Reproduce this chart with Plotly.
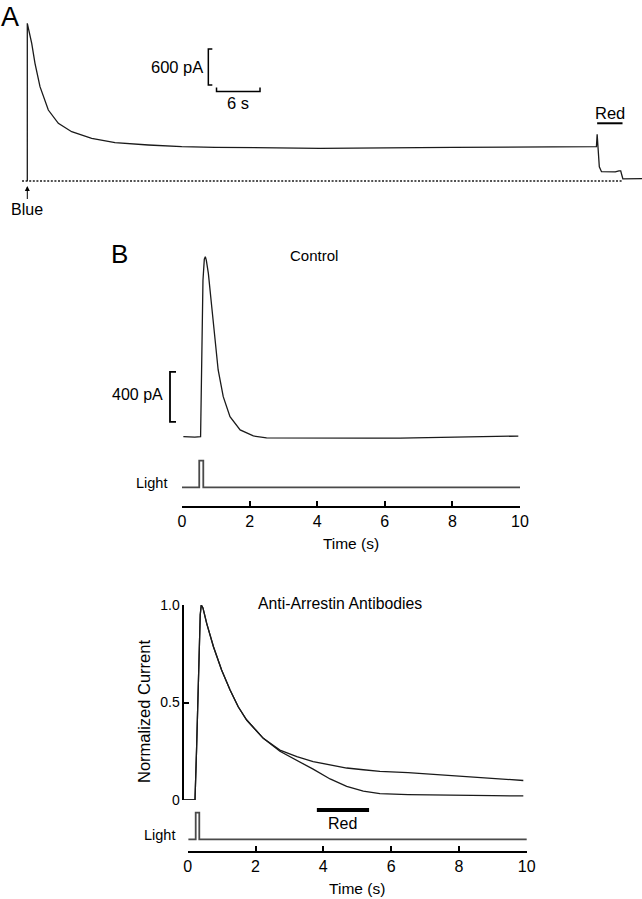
import plotly.graph_objects as go

W, H = 642, 899
FONT = "Liberation Sans, Arial, Helvetica, sans-serif"


def fx(px):
    return px / W


def fy(py):
    return 1 - py / H


# ---------------- DATA ----------------
# Panel A: whole-cell current (pA) vs time (s) after blue flash, red light at the end
a_time = [0.0, 0.0, 0.61, 1.06, 1.75, 2.90, 4.28, 6.12, 8.88, 12.1, 16.7, 21.3, 25.9,
          40.4, 58.7, 75.8, 78.5, 78.6, 78.75, 78.9, 79.2, 80.0, 81.1, 81.6, 81.85,
          82.0, 82.15, 84.8]
a_current = [0, 2628, 2295, 1962, 1572, 1183, 962, 822, 712, 638, 600, 572, 562,
             545, 561, 572, 572, 778, 450, 238, 155, 150, 152, 170, 168,
             100, 35, 38]
a_base_time = [-0.73, 82.2]
a_base_current = [0, 0]
a_red = [78.6, 82.1]
a_scale_current = 600   # pA
a_scale_time = 6        # s

# Panel B, Control: current (pA) vs time (s)
ctrl_time = [0.04, 0.2, 0.38, 0.55, 0.58, 0.62, 0.66, 0.69, 0.72, 0.78, 0.88, 0.98,
             1.07, 1.22, 1.42, 1.72, 2.11, 2.5, 3.5, 4.47, 5.5, 6.45, 7.5, 8.42,
             9.4, 9.95]
ctrl_current = [0, -2, -4, 0, 600, 1250, 1420, 1440, 1410, 1307, 1040, 774,
                534, 320, 160, 54, 6, -10, -12, -13, -12, -11, -8, -3,
                2, 5]
ctrl_light_time = [-0.04, 0.51, 0.51, 0.63, 0.63, 10.03]
ctrl_light = [0, 0, 1, 1, 0, 0]
b_scale_current = 400   # pA

# Panel B, Anti-Arrestin Antibodies: normalized current vs time (s)
anti_time = [-0.13, 0.215, 0.26, 0.30, 0.34, 0.37, 0.40, 0.45, 0.56, 0.76, 1.0,
             1.25, 1.49, 1.74, 2.0, 2.23, 2.72, 3.22, 3.7, 4.2, 4.69, 5.18, 5.67,
             6.5, 7.05, 8.0, 8.53, 9.0, 9.9]
anti_no_red = [0, 0, 0.25, 0.52, 0.80, 0.95, 1.0, 0.985, 0.906, 0.786, 0.667,
               0.564, 0.478, 0.41, 0.36, 0.316, 0.256, 0.222, 0.197, 0.18, 0.164,
               0.155, 0.147, 0.14, 0.134, 0.122, 0.115, 0.11, 0.10]
anti_red = [0, 0, 0.25, 0.52, 0.80, 0.95, 1.0, 0.985, 0.906, 0.786, 0.667,
            0.564, 0.478, 0.41, 0.36, 0.316, 0.25, 0.205, 0.158, 0.108, 0.07,
            0.045, 0.033, 0.028, 0.026, 0.024, 0.023, 0.022, 0.021]
anti_light_time = [0.02, 0.236, 0.236, 0.342, 0.342, 10.04]
anti_light = [0, 0, 1, 1, 0, 0]
anti_red_bar = [3.81, 5.35]

time_ticks = [0, 2, 4, 6, 8, 10]
norm_ticks = [0, 0.5, 1.0]
norm_ticktext = ["0", "0.5", "1.0"]

# ---------------- GEOMETRY (pixels) ----------------
A_K, A_X0 = 7.25, 27.3            # px per s, px of t=0
A_BASE, A_PAPX = 181.0, 600 / 36  # baseline px, pA per px
B_BASE, B_PAPX = 436.7, 8.0
L1_BASE, L1_UNIT = 487.3, 26.6
N_X0, N_K = 187.7, 33.9
L2_BASE, L2_UNIT = 839.3, 26.6

TRACE = dict(color="#1a1a1a", width=1.3)
LIGHT = dict(color="#4a4a4a", width=1.8)

fig = go.Figure()


def add(x, y, xa, ya, line, dash=None):
    ln = dict(line)
    if dash:
        ln["dash"] = dash
    fig.add_trace(go.Scatter(x=x, y=y, xaxis=xa, yaxis=ya, mode="lines", line=ln,
                             hoverinfo="skip", showlegend=False))


add(a_base_time, a_base_current, "x", "y", dict(color="#1a1a1a", width=1.4), dash="2px,1.6px")
add(a_time, a_current, "x", "y", TRACE)
add(ctrl_time, ctrl_current, "x2", "y2", TRACE)
add(ctrl_light_time, ctrl_light, "x2", "y3", LIGHT)
add(anti_time, anti_no_red, "x4", "y4", TRACE)
add(anti_time, anti_red, "x4", "y4", TRACE)
add(anti_light_time, anti_light, "x3", "y5", LIGHT)

time_axis = dict(showline=True, linecolor="black", linewidth=2.2, ticks="inside",
                 ticklen=5, tickwidth=2, tickcolor="black", tickvals=time_ticks,
                 range=[0, 10], showgrid=False, zeroline=False, anchor="free",
                 automargin=False,
                 tickfont=dict(size=16, color="black", family=FONT),
                 title=dict(text="Time (s)", font=dict(size=15.5, color="black", family=FONT),
                            standoff=8))
hidden = dict(visible=False, automargin=False)

fig.update_layout(
    width=W, height=H, margin=dict(l=0, r=0, t=0, b=0, pad=0, autoexpand=False),
    autosize=False, showlegend=False,
    paper_bgcolor="white", plot_bgcolor="white",
    font=dict(family=FONT, color="black"),
    xaxis=dict(domain=[0, 1], range=[(0 - A_X0) / A_K, (W - A_X0) / A_K],
               anchor="y", **hidden),
    yaxis=dict(domain=[fy(230), 1],
               range=[(A_BASE - 230) * A_PAPX, A_BASE * A_PAPX], anchor="x", **hidden),
    xaxis2=dict(domain=[fx(182), fx(520)], position=fy(506.7), **time_axis),
    yaxis2=dict(domain=[fy(445), fy(240)],
                range=[-(445 - B_BASE) * B_PAPX, (B_BASE - 240) * B_PAPX],
                anchor="x2", **hidden),
    yaxis3=dict(domain=[fy(495), fy(455)],
                range=[-(495 - L1_BASE) / L1_UNIT, (L1_BASE - 455) / L1_UNIT],
                anchor="x2", **hidden),
    xaxis3=dict(domain=[fx(N_X0), fx(N_X0 + 10 * N_K)], position=fy(851.7), **time_axis),
    xaxis4=dict(domain=[fx(183.3), fx(530)],
                range=[(183.3 - N_X0) / N_K, (530 - N_X0) / N_K],
                anchor="y4", **hidden),
    yaxis4=dict(domain=[fy(800), fy(605)], range=[0, 1], anchor="free", position=fx(183.3),
                automargin=False,
                showline=True, linecolor="black", linewidth=1.5, ticks="inside",
                ticklen=5, tickwidth=1.5, tickcolor="black", tickvals=norm_ticks,
                ticktext=norm_ticktext, showgrid=False, zeroline=False,
                tickfont=dict(size=14, color="black", family=FONT)),
    yaxis5=dict(domain=[fy(848), fy(805)],
                range=[-(848 - L2_BASE) / L2_UNIT, (L2_BASE - 805) / L2_UNIT],
                anchor="x3", **hidden),
)

# ---------------- Scale bars / stimulus bars ----------------
sa_x = 24.97
sa_y0 = 1600
tick_s = 4 / A_K
tick_pa = 4 * A_PAPX
shapes = [
    dict(type="path", xref="x", yref="y", line=dict(color="black", width=1.5),
         path=f"M {sa_x + tick_s},{sa_y0 + a_scale_current} L {sa_x},{sa_y0 + a_scale_current} "
              f"L {sa_x},{sa_y0} L {sa_x + tick_s},{sa_y0}"),
    dict(type="path", xref="x", yref="y", line=dict(color="black", width=1.5),
         path=f"M 26.1,{1490 + tick_pa} L 26.1,1490 L {26.1 + a_scale_time},1490 "
              f"L {26.1 + a_scale_time},{1490 + tick_pa}"),
    dict(type="line", xref="x", yref="y", x0=a_red[0], x1=a_red[1], y0=962, y1=962,
         line=dict(color="black", width=2)),
    dict(type="path", xref="paper", yref="y2", line=dict(color="black", width=1.8),
         path=f"M {fx(176)},{118 + b_scale_current} L {fx(170)},{118 + b_scale_current} "
              f"L {fx(170)},118 L {fx(176)},118"),
    dict(type="line", xref="x3", yref="paper", x0=anti_red_bar[0], x1=anti_red_bar[1],
         y0=fy(810), y1=fy(810), line=dict(color="black", width=4)),
]
fig.update_layout(shapes=shapes)


def ann(text, x, y, xref="paper", yref="paper", size=16, xanchor="center",
        yanchor="middle", **kw):
    return dict(text=text, x=x, y=y, xref=xref, yref=yref, showarrow=False,
                xanchor=xanchor, yanchor=yanchor,
                font=dict(size=size, color="black", family=FONT), **kw)


annotations = [
    ann("A", fx(10), 1.0, size=27, yanchor="top"),
    ann("B", fx(119.5), fy(254), size=26),
    ann(f"{a_scale_current} pA", (205 - A_X0) / A_K, (A_BASE - 67) * A_PAPX, "x", "y",
        size=16.5, xanchor="right"),
    ann(f"{a_scale_time} s", (238 - A_X0) / A_K, (A_BASE - 103) * A_PAPX, "x", "y", size=16.5),
    ann("Red", (a_red[0] + a_red[1]) / 2, (A_BASE - 113.3) * A_PAPX, "x", "y", size=16.5),
    dict(text="Blue", x=0, y=(A_BASE - 186) * A_PAPX, xref="x", yref="y", showarrow=True,
         ax=0, ay=23, arrowhead=2, arrowsize=1, arrowwidth=1, arrowcolor="black",
         font=dict(size=16, color="black", family=FONT)),
    ann("Control", fx(313.5), fy(255), size=15),
    ann(f"{b_scale_current} pA", fx(165), (B_BASE - 395) * B_PAPX, "paper", "y2",
        size=16, xanchor="right"),
    ann("Light", fx(169.3), fy(482.7), size=14.5, xanchor="right"),
    ann("Anti-Arrestin Antibodies", fx(339.7), fy(603.3), size=15.8),
    ann("Normalized Current", fx(143.3), fy(711.7), size=16.5, textangle=-90),
    ann("Red", (anti_red_bar[0] + anti_red_bar[1]) / 2, fy(823), "x3", "paper", size=16),
    ann("Light", fx(176.7), fy(835), size=14.5, xanchor="right"),
]
fig.update_layout(annotations=annotations)

fig.write_html(
    "out.html",
    config={"responsive": False, "displayModeBar": False},
    post_script="document.body.style.margin='0';document.body.style.overflow='hidden';",
)
